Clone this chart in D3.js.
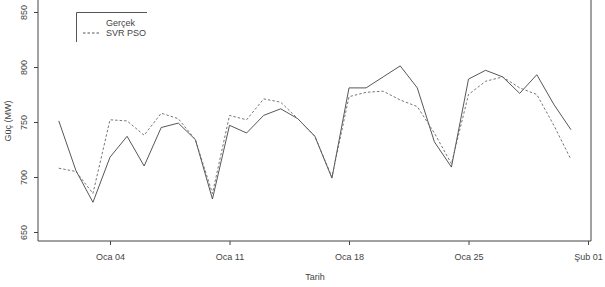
<!DOCTYPE html>
<html>
<head>
<meta charset="utf-8">
<script src="https://cdn.jsdelivr.net/npm/d3@7"></script>
<style>
  body { margin: 0; background: #fff; }
  text { font-family: "Liberation Sans", Arial, sans-serif; fill: #444; }
</style>
</head>
<body>
<div class="graph"></div>
<script>
// data: daily values, January
const days = d3.range(1, 32).map(d => new Date(2021, 0, d));
const gercek = [751, 706, 677, 718, 737, 710, 745, 749, 734, 680, 747, 740, 756, 762, 753, 737,
                699, 781, 781, 791, 801, 781, 732, 709, 789, 797, 791, 776, 793, 766, 743];
const svrPso = [708, 705, 685, 752, 751, 738, 758, 753, 734, 685, 756, 752, 771, 768, 753, 737,
                700, 773, 777, 778, 770, 764, 740, 712, 775, 787, 791, 781, 775, 747, 716];
const tickDates = [new Date(2021, 0, 4), new Date(2021, 0, 11), new Date(2021, 0, 18), new Date(2021, 0, 25), new Date(2021, 1, 1)];
const tickLabels = ["Oca 04", "Oca 11", "Oca 18", "Oca 25", "Şub 01"];
const yTicks = [650, 700, 750, 800, 850];

const W = 605, H = 287;
const svg = d3.select(".graph").append("svg")
    .attr("width", W)
    .attr("height", H);

// scales
const x = d3.scaleTime()
    .domain([new Date(2021, 0, 1), new Date(2021, 1, 1)])
    .range([58.8, 588]);
const y = d3.scaleLinear()
    .domain([650, 850])
    .range([232, 12]);

// frame (top edge cropped off)
svg.append("path")
    .attr("d", "M38,-2V241H591V-2")
    .attr("stroke", "#444").attr("fill", "none");

// x axis
const xAxis = svg.append("g")
    .attr("transform", "translate(0,241)")
    .call(d3.axisBottom(x).tickValues(tickDates).tickSize(4).tickPadding(9)
        .tickFormat((d, i) => tickLabels[i]));
xAxis.select(".domain").remove();
xAxis.selectAll("line").attr("stroke", "#444");
xAxis.selectAll("text").attr("font-size", 9).attr("fill", "#444")
    .style("font-family", "Liberation Sans, Arial, sans-serif");

// y axis
const yAxis = svg.append("g")
    .attr("transform", "translate(38,0)")
    .call(d3.axisLeft(y).tickValues(yTicks).tickSize(4).tickFormat(d3.format("d")));
yAxis.select(".domain").remove();
yAxis.selectAll("line").attr("stroke", "#444");
yAxis.selectAll("text")
    .attr("font-size", 9).attr("fill", "#444")
    .style("font-family", "Liberation Sans, Arial, sans-serif")
    .attr("text-anchor", "middle")
    .attr("x", 0).attr("dy", 0)
    .attr("transform", "translate(-11,0) rotate(-90)");

// axis titles
svg.append("text")
    .attr("x", 315).attr("y", 280)
    .attr("text-anchor", "middle")
    .attr("font-size", 9)
    .text("Tarih");
svg.append("text")
    .attr("transform", "translate(11,121) rotate(-90)")
    .attr("text-anchor", "middle")
    .attr("font-size", 9)
    .text("Güç (MW)");

// lines
const line = d3.line()
    .x((d, i) => x(days[i]))
    .y(d => y(d));

svg.append("path")
    .datum(gercek)
    .attr("fill", "none")
    .attr("stroke", "#444")
    .attr("stroke-width", 0.9)
    .attr("d", line);

svg.append("path")
    .datum(svrPso)
    .attr("fill", "none")
    .attr("stroke", "#666")
    .attr("stroke-width", 0.9)
    .attr("stroke-dasharray", "2.5,2")
    .attr("d", line);

// legend (partly visible box)
const legend = svg.append("g");
legend.append("path")
    .attr("d", "M76.5,42V12.5H147")
    .attr("fill", "none")
    .attr("stroke", "#555");
legend.append("line")
    .attr("x1", 83).attr("x2", 99).attr("y1", 33).attr("y2", 33)
    .attr("stroke", "#555").attr("stroke-dasharray", "2.5,2");
legend.append("text").attr("x", 106).attr("y", 26).attr("font-size", 9).text("Gerçek");
legend.append("text").attr("x", 106).attr("y", 36).attr("font-size", 9).text("SVR PSO");
</script>
</body>
</html>
